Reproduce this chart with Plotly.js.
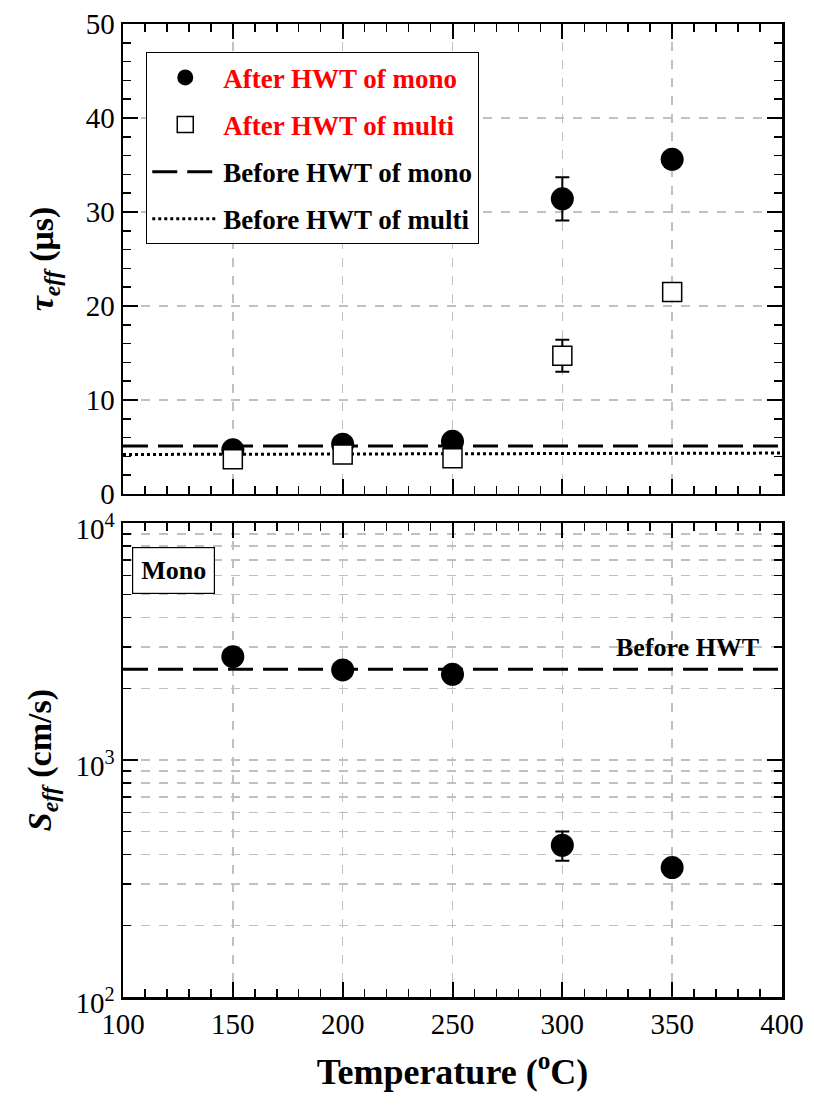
<!DOCTYPE html>
<html>
<head>
<meta charset="utf-8">
<script src="https://cdn.plot.ly/plotly-3.0.1.min.js"></script>
<style>
  html, body { margin: 0; padding: 0; background: #ffffff; }
  #chart { width: 814px; height: 1111px; }
</style>
</head>
<body>
<div id="chart"></div>
<script>
// Annealing temperature (°C)
var temperature = [150, 200, 250, 300, 350];

// Effective lifetime after hot-water treatment (µs)
var tauMono = [4.7, 5.3, 5.6, 31.4, 35.6];
var tauMonoErr = [0, 0, 0, 2.3, 0];
var tauMulti = [3.7, 4.2, 3.8, 14.7, 21.5];
var tauMultiErr = [0, 0, 0, 1.7, 0];

// Reference lifetimes before treatment (µs), across the x range
var refX = [100, 400];
var tauBeforeMono = [5.1, 5.1];
var tauBeforeMulti = [4.2, 4.35];

// Effective surface recombination velocity, mono (cm/s)
var sMono = [2730, 2400, 2300, 437, 352];
var sMonoErrPlus = [0, 0, 0, 62, 0];
var sMonoErrMinus = [0, 0, 0, 61, 0];
var sBeforeMono = [2415, 2415];

// Log-axis labels
var logTickVals = [100, 1000, 10000];
var logTickText = ['10<sup>2</sup>', '10<sup>3</sup>', '10<sup>4</sup>'];

var FONT = 'Liberation Serif, Times New Roman, serif';
var GRID = '#c0c0c0';

// minor ticks for the log axis: 2..9 in each decade
var logMinor = [];
[100, 1000].forEach(function (d) {
  for (var k = 2; k <= 9; k++) logMinor.push(d * k);
});

var traces = [
  {
    x: refX, y: tauBeforeMono, xaxis: 'x', yaxis: 'y',
    mode: 'lines', name: 'Before HWT of mono',
    line: { color: '#000', width: 3, dash: '25px,10px' },
    legendrank: 3, legendgroup: 'c'
  },
  {
    x: refX, y: tauBeforeMulti, xaxis: 'x', yaxis: 'y',
    mode: 'lines', name: 'Before HWT of multi',
    line: { color: '#000', width: 3, dash: '3px,3px' },
    legendrank: 4, legendgroup: 'd'
  },
  {
    x: temperature, y: tauMono, xaxis: 'x', yaxis: 'y',
    mode: 'markers', name: '<span style="color:#ff0000">After HWT of mono</span>',
    marker: { symbol: 'circle', size: 23, color: '#000' },
    error_y: { type: 'data', array: tauMonoErr, color: '#000', thickness: 2, width: 7 },
    legendrank: 1, legendgroup: 'a'
  },
  {
    x: temperature, y: tauMulti, xaxis: 'x', yaxis: 'y',
    mode: 'markers', name: '<span style="color:#ff0000">After HWT of multi</span>',
    marker: { symbol: 'square', size: 19, color: '#fff', line: { color: '#000', width: 1.5 } },
    error_y: { type: 'data', array: tauMultiErr, color: '#000', thickness: 2, width: 7 },
    legendrank: 2, legendgroup: 'b'
  },
  {
    x: refX, y: sBeforeMono, xaxis: 'x2', yaxis: 'y2',
    mode: 'lines', showlegend: false,
    line: { color: '#000', width: 3, dash: '25px,10px' }
  },
  {
    x: temperature, y: sMono, xaxis: 'x2', yaxis: 'y2',
    mode: 'markers', showlegend: false,
    marker: { symbol: 'circle', size: 23, color: '#000' },
    error_y: { type: 'data', symmetric: false, array: sMonoErrPlus, arrayminus: sMonoErrMinus,
               color: '#000', thickness: 2, width: 7 }
  }
];

function xAxis(anchor, labels) {
  return {
    anchor: anchor, domain: [0, 1], range: [100, 400], dtick: 50, tick0: 100,
    ticks: 'inside', ticklen: 15, tickwidth: 2, tickcolor: '#000',
    showticklabels: labels,
    tickfont: { family: FONT, size: 29, color: '#000' },
    showline: true, linewidth: 2.5, linecolor: '#000', mirror: 'allticks',
    showgrid: true, gridcolor: GRID, gridwidth: 1.5, griddash: 'dash',
    zeroline: false,
    minor: { dtick: 10, tick0: 100, ticks: 'inside', ticklen: 8, tickwidth: 1.5, tickcolor: '#000', showgrid: false }
  };
}

var layout = {
  width: 814, height: 1111,
  margin: { l: 123, r: 32, t: 24, b: 114 },
  paper_bgcolor: '#fff', plot_bgcolor: '#fff',
  font: { family: FONT, color: '#000' },
  showlegend: true,
  legend: {
    x: 0.035, y: 0.971, xanchor: 'left', yanchor: 'top',
    bgcolor: '#fff', bordercolor: '#000', borderwidth: 1.2,
    font: { family: FONT, size: 27, color: '#000', weight: 'bold' },
    traceorder: 'grouped', tracegroupgap: 9, itemwidth: 66
  },
  xaxis: xAxis('y', false),
  xaxis2: Object.assign(xAxis('y2', true), {
    title: { text: 'Temperature (<sup>o</sup>C)', font: { family: FONT, size: 36, weight: 'bold' }, standoff: 20 }
  }),
  yaxis: {
    anchor: 'x', domain: [0.517, 1], range: [0, 50], dtick: 10, tick0: 0,
    ticks: 'inside', ticklen: 15, tickwidth: 2, tickcolor: '#000',
    tickfont: { family: FONT, size: 29, color: '#000' },
    showline: true, linewidth: 2.5, linecolor: '#000', mirror: 'allticks',
    showgrid: true, gridcolor: GRID, gridwidth: 1.5, griddash: 'dash',
    zeroline: false,
    minor: { dtick: 2, tick0: 0, ticks: 'inside', ticklen: 8, tickwidth: 1.5, tickcolor: '#000', showgrid: false },
    title: { text: '<i>τ</i><sub><i>eff</i></sub> (μs)', font: { family: FONT, size: 34, weight: 'bold' }, standoff: 22 }
  },
  yaxis2: {
    anchor: 'x2', domain: [0, 0.487], type: 'log', range: [2, 4],
    tickmode: 'array', tickvals: logTickVals, ticktext: logTickText,
    ticks: 'inside', ticklen: 15, tickwidth: 2, tickcolor: '#000',
    tickfont: { family: FONT, size: 29, color: '#000' },
    ticklabelshift: 6,
    showline: true, linewidth: 2.5, linecolor: '#000', mirror: 'allticks',
    showgrid: true, gridcolor: GRID, gridwidth: 1.5, griddash: 'dash',
    zeroline: false,
    minor: { tickmode: 'array', tickvals: logMinor, ticks: 'inside', ticklen: 8, tickwidth: 1.5, tickcolor: '#000',
             showgrid: true, gridcolor: GRID, gridwidth: 1.5, griddash: 'dash' },
    title: { text: '<i>S</i><sub><i>eff</i></sub> (cm/s)', font: { family: FONT, size: 34, weight: 'bold' }, standoff: 14 }
  },
  annotations: [
    {
      xref: 'x2 domain', yref: 'y2 domain', x: 0.077, y: 0.901,
      xanchor: 'center', yanchor: 'middle', showarrow: false,
      text: 'Mono', font: { family: FONT, size: 26, weight: 'bold', color: '#000' },
      bgcolor: '#fff', bordercolor: '#000', borderwidth: 1.2, borderpad: 8
    },
    {
      xref: 'x2 domain', yref: 'y2 domain', x: 0.968, y: 0.738,
      xanchor: 'right', yanchor: 'middle', showarrow: false,
      text: 'Before HWT', font: { family: FONT, size: 26, weight: 'bold', color: '#000' }
    }
  ]
};

Plotly.newPlot('chart', traces, layout, { displayModeBar: false, staticPlot: true });
</script>
</body>
</html>
